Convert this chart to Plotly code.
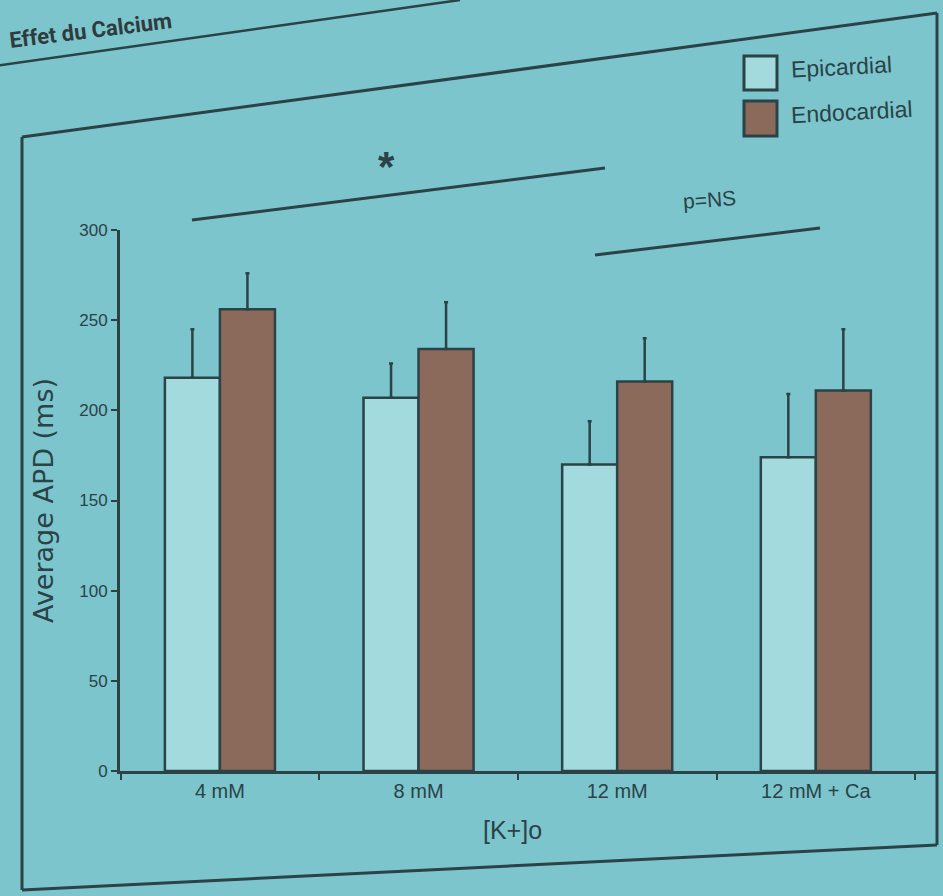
import plotly.graph_objects as go

categories = ["4 mM", "8 mM", "12 mM", "12 mM + Ca"]
epi_values = [218, 207, 170, 174]
epi_err = [27, 19, 24, 35]
endo_values = [256, 234, 216, 211]
endo_err = [20, 26, 24, 34]
y_ticks = [0, 50, 100, 150, 200, 250, 300]

BG = "#7cc5cd"
DARK = "#2b4246"
EPI_FILL = "#a3dade"
ENDO_FILL = "#8b6a5c"
FONT = "Liberation Sans, Arial"

W, H = 943, 896
L, R, T, B = 120, 6, 230, 125
PW, PH = W - L - R, H - T - B


def px(x):
    return (x - L) / PW


def py(y):
    return (H - B - y) / PH


fig = go.Figure()
fig.add_trace(go.Bar(
    name="Epicardial", x=categories, y=epi_values,
    marker=dict(color=EPI_FILL, line=dict(color=DARK, width=2.5)),
    error_y=dict(type="data", symmetric=False, array=epi_err,
                 arrayminus=[0] * len(epi_err), color=DARK, thickness=2.5, width=2),
))
fig.add_trace(go.Bar(
    name="Endocardial", x=categories, y=endo_values,
    marker=dict(color=ENDO_FILL, line=dict(color=DARK, width=2.5)),
    error_y=dict(type="data", symmetric=False, array=endo_err,
                 arrayminus=[0] * len(endo_err), color=DARK, thickness=2.5, width=2),
))

shapes = []


def seg(x0, y0, x1, y1, w=3):
    shapes.append(dict(type="line", xref="paper", yref="paper",
                       x0=px(x0), y0=py(y0), x1=px(x1), y1=py(y1),
                       line=dict(color=DARK, width=w)))


seg(-5, 66, 460, 0, 2.5)         # title underline
seg(22, 137, 937, 13)            # frame top
seg(22, 137, 22, 890)            # frame left
seg(937, 13, 937, 845)           # frame right
seg(22, 890, 937, 845)           # frame bottom
seg(192, 220, 605, 168, 3)       # significance "*"
seg(595, 255, 820, 228, 3)       # significance p=NS

shapes.append(dict(type="rect", xref="paper", yref="paper",
                   x0=px(744), y0=py(90), x1=px(777), y1=py(56),
                   fillcolor=EPI_FILL, line=dict(color=DARK, width=3)))
shapes.append(dict(type="rect", xref="paper", yref="paper",
                   x0=px(744), y0=py(136), x1=px(777), y1=py(101),
                   fillcolor=ENDO_FILL, line=dict(color=DARK, width=3)))

annotations = [
    dict(text="Epicardial", x=px(788), y=py(67), xref="paper", yref="paper",
         xanchor="left", yanchor="middle", showarrow=False, textangle=-3,
         font=dict(family=FONT, size=23, color=DARK)),
    dict(text="Endocardial", x=px(788), y=py(112), xref="paper", yref="paper",
         xanchor="left", yanchor="middle", showarrow=False, textangle=-3,
         font=dict(family=FONT, size=23, color=DARK)),
    dict(text="<b>*</b>", x=px(386), y=py(166), xref="paper", yref="paper",
         xanchor="center", yanchor="middle", showarrow=False,
         font=dict(family=FONT, size=42, color=DARK)),
    dict(text="p=NS", x=px(709), y=py(200), xref="paper", yref="paper",
         xanchor="center", yanchor="middle", showarrow=False, textangle=-4,
         font=dict(family=FONT, size=21, color=DARK)),
    dict(text="[K+]o", x=px(512), y=py(830), xref="paper", yref="paper",
         xanchor="center", yanchor="middle", showarrow=False,
         font=dict(family=FONT, size=25, color=DARK)),
    dict(text="<b>Effet du Calcium</b>", x=px(6), y=py(55), xref="paper", yref="paper",
         xanchor="left", yanchor="bottom", showarrow=False, textangle=-7,
         font=dict(family="Roboto, Liberation Sans", size=22, color="#2f3b3d")),
]

fig.update_layout(
    width=W, height=H,
    margin=dict(l=L, r=R, t=T, b=B),
    paper_bgcolor=BG, plot_bgcolor=BG,
    barmode="group", bargap=0.446, bargroupgap=0,
    showlegend=False,
    shapes=shapes, annotations=annotations,
    xaxis=dict(
        range=[-0.503, 3.61], showgrid=False, showline=True, linecolor=DARK,
        linewidth=3, ticks="outside", tickson="boundaries", ticklen=6,
        tickcolor=DARK, tickwidth=2,
        tickfont=dict(family=FONT, size=20, color=DARK),
    ),
    yaxis=dict(
        range=[0, 300], tickvals=y_ticks, ticktext=[str(v) for v in y_ticks],
        showgrid=False, zeroline=False, showline=True, linecolor=DARK,
        linewidth=3, ticks="outside", ticklen=6, tickcolor=DARK, tickwidth=2,
        tickfont=dict(family=FONT, size=17, color=DARK),
        title=dict(text="Average APD (ms)",
                   font=dict(family="DejaVu Sans, Liberation Sans", size=27, color=DARK),
                   standoff=18),
    ),
)

fig.write_html(
    "out.html",
    config={"displayModeBar": False},
    post_script="document.body.style.margin='0';document.body.style.background='%s';" % BG,
)
